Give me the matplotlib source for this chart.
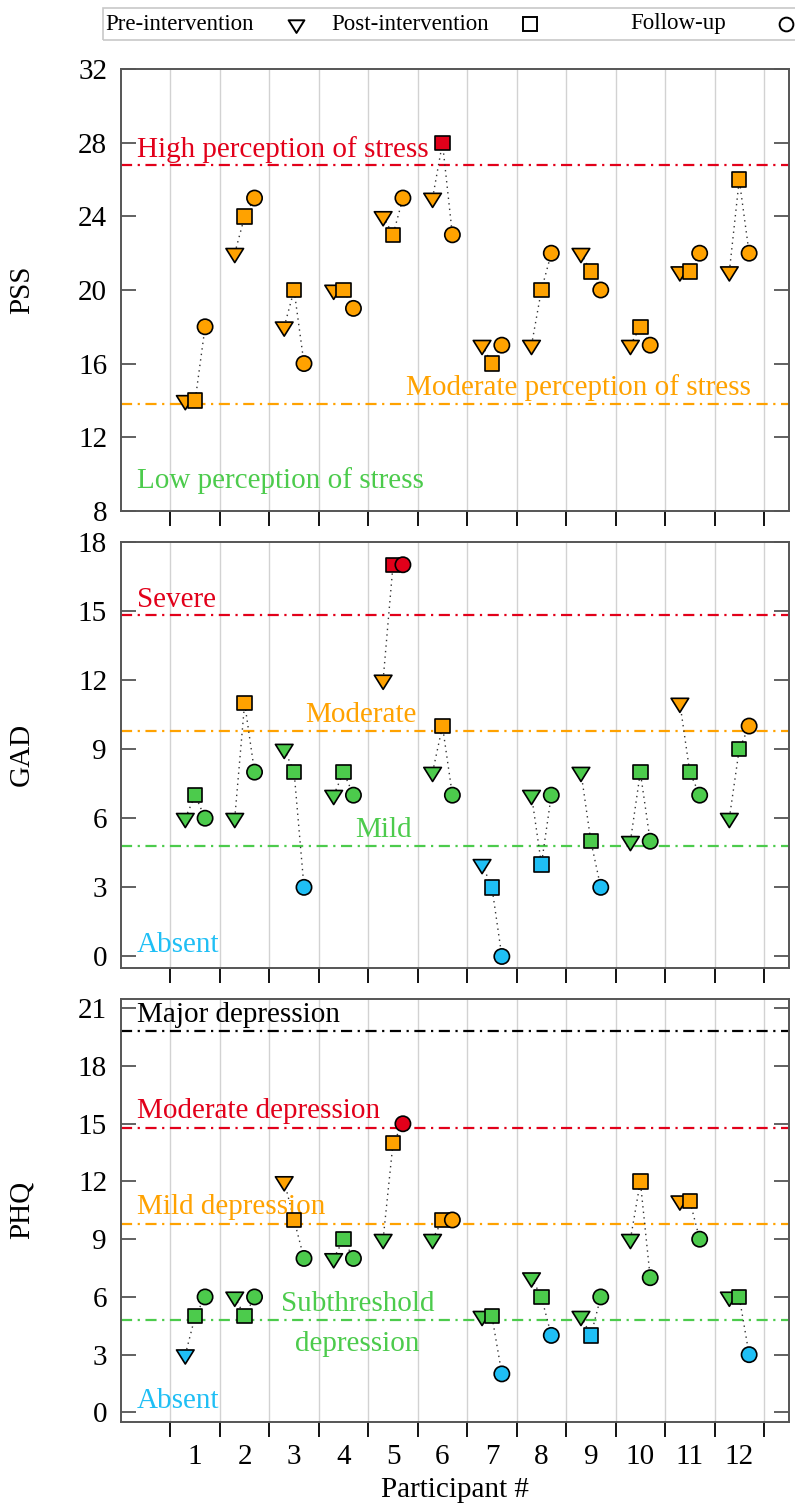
import matplotlib
matplotlib.use('Agg')
import matplotlib.pyplot as plt
from matplotlib.lines import Line2D
from matplotlib.patches import Rectangle
from matplotlib.path import Path
import numpy as np

plt.rcParams['font.family'] = ['Liberation Serif', 'DejaVu Serif']

# ---------------- data ----------------
participants = list(range(1, 13))

pss_pre  = [14, 22, 18, 20, 24, 25, 17, 17, 22, 17, 21, 21]
pss_post = [14, 24, 20, 20, 23, 28, 16, 20, 21, 18, 21, 26]
pss_fu   = [18, 25, 16, 19, 25, 23, 17, 22, 20, 17, 22, 22]

gad_pre  = [6, 6, 9, 7, 12, 8, 4, 7, 8, 5, 11, 6]
gad_post = [7, 11, 8, 8, 17, 10, 3, 4, 5, 8, 8, 9]
gad_fu   = [6, 8, 3, 7, 17, 7, 0, 7, 3, 5, 7, 10]

phq_pre  = [3, 6, 12, 8, 9, 9, 5, 7, 5, 9, 11, 6]
phq_post = [5, 5, 10, 9, 14, 10, 5, 6, 4, 12, 11, 6]
phq_fu   = [6, 6, 8, 8, 15, 10, 2, 4, 6, 7, 9, 3]

pss_cuts = [13.8, 26.8]
gad_cuts = [4.8, 9.8, 14.8]
phq_cuts = [4.8, 9.8, 14.8, 19.8]

pss_labels = ["Low perception of stress", "Moderate perception of stress", "High perception of stress"]
gad_labels = ["Absent", "Mild", "Moderate", "Severe"]
phq_labels = ["Absent", "Subthreshold\ndepression", "Mild depression", "Moderate depression", "Major depression"]

legend_labels = ["Pre-intervention", "Post-intervention", "Follow-up"]

# ---------------- style ----------------
RED = '#e2001a'
ORANGE = '#ffa200'
GREEN = '#4ccb4c'
BLUE = '#1fbff5'
BLACK = '#000000'

pss_cols = [GREEN, ORANGE, RED]
gad_cols = [BLUE, GREEN, ORANGE, RED]
phq_cols = [BLUE, GREEN, ORANGE, RED, BLACK]

TRI = Path([(-1, 0.533), (1, 0.533), (0, -1.067), (-1, 0.533)],
           [Path.MOVETO, Path.LINETO, Path.LINETO, Path.CLOSEPOLY])

W, H = 795, 1508
fig = plt.figure(figsize=(W / 100, H / 100), dpi=100)


def px_axes(left, top, right, bottom):
    return fig.add_axes([left / W, 1 - bottom / H, (right - left) / W, (bottom - top) / H])


def color_for(v, cuts, cols):
    k = int(np.searchsorted(cuts, v, side='right'))
    return cols[k]


DASHDOT = (0, (5, 2.5, 1, 2.5))
MARKS = [(TRI, 13.5, -0.2), ('s', 10.4, 0.0), ('o', 11.0, 0.2)]


def panel(ax, pre, post, fu, cuts, cols, ylim, yticks, ylabel, bottom=False):
    x = np.array(participants, dtype=float)
    for i in range(len(x)):
        ax.plot([x[i] - 0.2, x[i], x[i] + 0.2], [pre[i], post[i], fu[i]],
                ls=(0, (1, 3)), color='#333333', lw=1.0, zorder=3)
    for vals, (mk, ms, off) in zip([pre, post, fu], MARKS):
        colors = [color_for(v, cuts, cols) for v in vals]
        ax.scatter(x + off, vals, marker=mk, s=ms ** 2, c=colors,
                   edgecolors='black', linewidths=1.2, zorder=4)
    for c, col in zip(cuts, cols[1:]):
        ax.axhline(c, color=col, lw=1.6, ls=DASHDOT, zorder=2)

    ax.set_xlim(-0.5, 13.0)
    ax.set_ylim(*ylim)
    ax.set_yticks(yticks)
    ax.set_xticks(participants)
    ax.set_xticks(np.arange(0.5, 13.0, 1.0), minor=True)
    ax.grid(True, which='minor', axis='x', color='#d2d2d2', lw=1.0, zorder=0)
    ax.grid(False, which='major')
    ax.tick_params(axis='x', which='minor', direction='out', length=11, width=1.3,
                   color='black', bottom=True, top=False)
    ax.tick_params(axis='x', which='major', length=0, labelsize=21, pad=16,
                   labelbottom=bottom)
    ax.tick_params(axis='y', which='major', direction='in', length=11, width=1.3,
                   color='#555555', left=True, right=True, labelsize=21, pad=10)
    for s in ax.spines.values():
        s.set_color('#555555')
        s.set_linewidth(1.4)
    ax.set_ylabel(ylabel, fontsize=21)
    ax.yaxis.set_label_coords(-0.129, 0.5)


# PSS
ax1 = px_axes(121, 69.3, 788.7, 510.7)
panel(ax1, pss_pre, pss_post, pss_fu, pss_cuts, pss_cols, (8, 32), np.arange(8, 33, 4), 'PSS')
ax1.text(-0.18, 27.25, pss_labels[2], color=RED, fontsize=21, ha='left', va='baseline')
ax1.text(12.23, 14.3, pss_labels[1], color=ORANGE, fontsize=21, ha='right', va='baseline')
ax1.text(-0.18, 9.23, pss_labels[0], color=GREEN, fontsize=21, ha='left', va='baseline')

# GAD
ax2 = px_axes(121, 541.7, 788.7, 968)
panel(ax2, gad_pre, gad_post, gad_fu, gad_cuts, gad_cols, (-0.5, 18), np.arange(0, 19, 3), 'GAD')
ax2.text(-0.18, 15.18, gad_labels[3], color=RED, fontsize=21, ha='left', va='baseline')
ax2.text(3.23, 10.19, gad_labels[2], color=ORANGE, fontsize=21, ha='left', va='baseline')
ax2.text(4.24, 5.19, gad_labels[1], color=GREEN, fontsize=21, ha='left', va='baseline')
ax2.text(-0.18, 0.19, gad_labels[0], color=BLUE, fontsize=21, ha='left', va='baseline')

# PHQ
ax3 = px_axes(121, 998.7, 788.7, 1422)
panel(ax3, phq_pre, phq_post, phq_fu, phq_cuts, phq_cols, (-0.5, 21.5), np.arange(0, 22, 3), 'PHQ', bottom=True)
ax3.text(-0.18, 20.3, phq_labels[4], color=BLACK, fontsize=21, ha='left', va='baseline')
ax3.text(-0.18, 15.3, phq_labels[3], color=RED, fontsize=21, ha='left', va='baseline')
ax3.text(-0.18, 10.3, phq_labels[2], color=ORANGE, fontsize=21, ha='left', va='baseline')
ax3.text(4.28, 4.6, phq_labels[1], color=GREEN, fontsize=21, ha='center', va='center', linespacing=1.7)
ax3.text(-0.18, 0.23, phq_labels[0], color=BLUE, fontsize=21, ha='left', va='baseline')

fig.text(455 / W, 1 - 1490 / H, 'Participant #', fontsize=21, ha='center', va='center')

# ---------------- legend (top box) ----------------
fig.add_artist(Rectangle((103 / W, 1 - 40 / H), (800 - 103) / W, 32 / H,
                         transform=fig.transFigure, fill=False, edgecolor='#c8c8c8', lw=1.2))
leg_text_x = [105, 331, 630]
leg_mark_x = [296, 530, 786]
for lab, tx, mx, (mk, ms, _) in zip(legend_labels, leg_text_x, leg_mark_x, MARKS):
    fig.text(tx / W, 1 - 24 / H, lab, fontsize=16.5, ha='left', va='center')
    fig.add_artist(Line2D([mx / W], [1 - 24 / H], marker=mk, markersize=ms * 0.9, ls='none',
                          markerfacecolor='white', markeredgecolor='black', markeredgewidth=1.4,
                          transform=fig.transFigure))

fig.savefig('out.png', dpi=100)
